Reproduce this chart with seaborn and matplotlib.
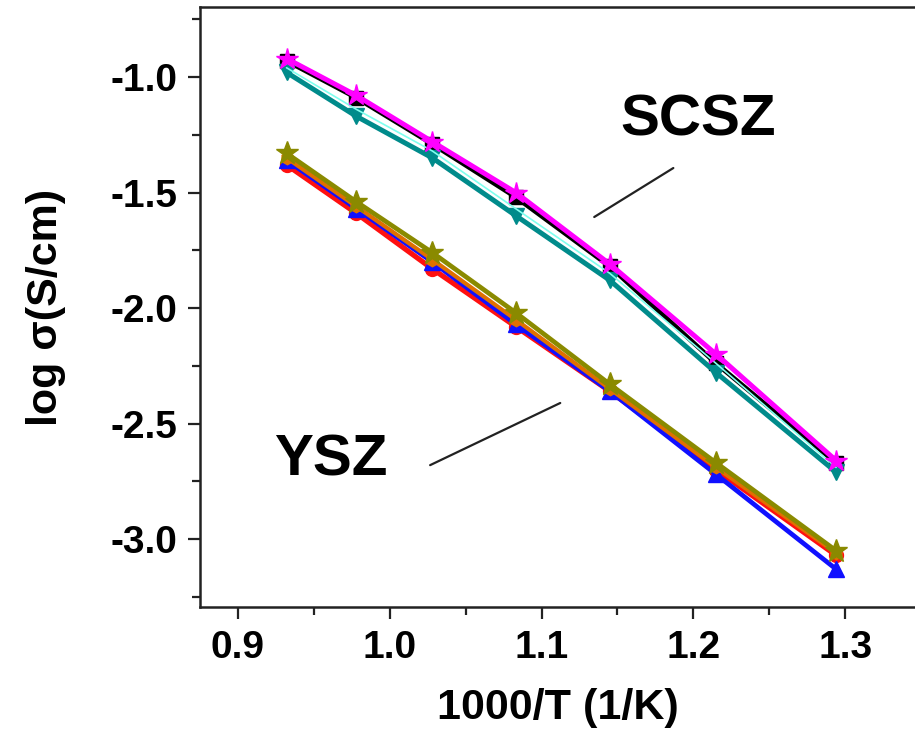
import matplotlib
matplotlib.use("Agg")
import matplotlib.pyplot as plt
from matplotlib.ticker import MultipleLocator
import numpy as np
import pandas as pd
import seaborn as sns

# Inverse temperature, 1000/T (1/K)
inv_T = [0.932, 0.978, 1.028, 1.083, 1.145, 1.215, 1.294]

# log conductivity, scandia-ceria stabilised zirconia samples
scsz_black = [-0.93, -1.09, -1.29, -1.52, -1.82, -2.24, -2.67]
scsz_cyan = [-0.96, -1.14, -1.32, -1.57, -1.85, -2.24, -2.69]
scsz_teal = [-0.98, -1.17, -1.35, -1.60, -1.88, -2.28, -2.71]
scsz_magenta = [-0.92, -1.08, -1.28, -1.50, -1.81, -2.20, -2.66]

# log conductivity, yttria stabilised zirconia samples
ysz_red = [-1.38, -1.59, -1.83, -2.08, -2.36, -2.70, -3.07]
ysz_blue = [-1.36, -1.57, -1.80, -2.07, -2.36, -2.72, -3.13]
ysz_orange = [-1.35, -1.56, -1.79, -2.05, -2.35, -2.69, -3.06]
ysz_olive = [-1.33, -1.54, -1.76, -2.02, -2.33, -2.67, -3.05]

x_ticks = [0.9, 1.0, 1.1, 1.2, 1.3]
y_ticks = [-1.0, -1.5, -2.0, -2.5, -3.0]

sns.set_style("ticks")
plt.rcParams["font.family"] = ["Liberation Sans", "DejaVu Sans"]
plt.rcParams["font.weight"] = "bold"
plt.rcParams["text.color"] = "black"
plt.rcParams["axes.labelcolor"] = "black"

fig = plt.figure(figsize=(9.15, 7.41), dpi=100)
ax = fig.add_axes([200 / 915, 1 - 607 / 741, 715 / 915, 600 / 741])

series = [
    # (values, colour, marker, marker size, line width)
    (scsz_black, "#000000", "s", 10, 3.4),
    (scsz_teal, "#008B8B", "v", 12, 3.6),
    (scsz_cyan, "#7FFFEF", None, 0, 1.2),
    (scsz_magenta, "#FF00FF", "*", 16, 3.6),
    (ysz_red, "#FF1010", "o", 10, 3.8),
    (ysz_blue, "#1010FF", "^", 11, 3.4),
    (ysz_orange, "#E07000", "h", 9, 3.0),
    (ysz_olive, "#8A8A00", "*", 17, 3.4),
]

for vals, col, mk, ms, lw in series:
    df = pd.DataFrame({"inv_T": inv_T, "log_sigma": vals})
    kw = {}
    if mk is not None:
        kw = dict(marker=mk, markersize=ms, markeredgecolor=col,
                  markerfacecolor=col, markeredgewidth=1)
    sns.lineplot(data=df, x="inv_T", y="log_sigma", color=col, lw=lw,
                 sort=False, ax=ax, legend=False, **kw)

# Sample labels with leader lines
ax.text(1.203, -1.19, "SCSZ", fontsize=42, fontweight="bold",
        ha="center", va="center", color="black")
ax.plot([1.1347, 1.1868], [-1.606, -1.394], color="#222222", lw=1.6)
ax.text(0.961, -2.662, "YSZ", fontsize=42, fontweight="bold",
        ha="center", va="center", color="black")
ax.plot([1.0266, 1.1123], [-2.680, -2.411], color="#222222", lw=1.6)

ax.set_xlim(0.875, 1.346)
ax.set_ylim(-3.294, -0.697)
ax.set_xticks(x_ticks)
ax.set_xticklabels([f"{v:.1f}" for v in x_ticks])
ax.set_yticks(y_ticks)
ax.set_yticklabels([f"{v:.1f}" for v in y_ticks])
ax.xaxis.set_minor_locator(MultipleLocator(0.05))
ax.yaxis.set_minor_locator(MultipleLocator(0.25))

ax.tick_params(axis="both", which="major", direction="out", length=8.5,
               width=1.6, labelsize=28, pad=8, colors="#222222",
               labelcolor="black")
ax.tick_params(axis="both", which="minor", direction="out", length=5.5,
               width=1.6, colors="#222222")
for lab in ax.get_xticklabels() + ax.get_yticklabels():
    lab.set_fontweight("bold")

for side in ("left", "bottom", "top"):
    ax.spines[side].set_linewidth(1.8)
    ax.spines[side].set_color("#222222")
ax.spines["right"].set_visible(False)

ax.set_xlabel("1000/T (1/K)", fontsize=31, fontweight="bold", labelpad=16,
              color="black")
ax.set_ylabel("log σ(S/cm)", fontsize=31, fontweight="bold", labelpad=32,
              color="black")

fig.savefig("out.png", dpi=100)
